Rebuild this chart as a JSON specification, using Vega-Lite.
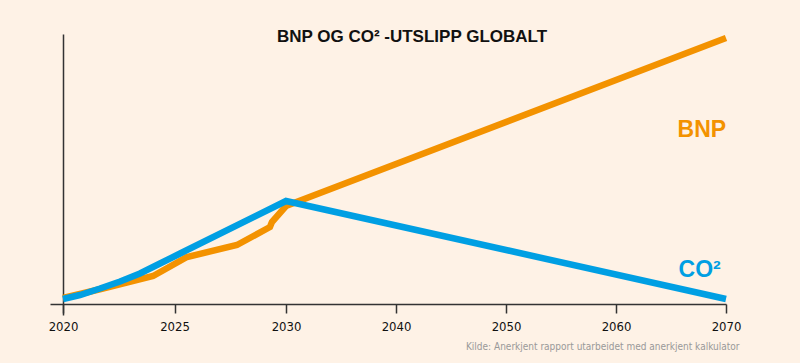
{
  "$schema": "https://vega.github.io/schema/vega-lite/v6.json",
  "width": 676,
  "height": 281,
  "autosize": {"type": "none"},
  "padding": {"left": 50, "top": 34, "right": 74, "bottom": 48},
  "background": "#FEF2E6",
  "config": {"view": {"stroke": null}},
  "title": {
    "text": "BNP OG CO² -UTSLIPP GLOBALT",
    "font": "Liberation Sans",
    "fontSize": 17,
    "fontWeight": "bold",
    "color": "#111111",
    "anchor": "middle",
    "baseline": "alphabetic",
    "dx": 24,
    "offset": -34
  },
  "datasets": {
    "lines": [
      {"series": "BNP", "year": 2020.0, "value": 6},
      {"series": "BNP", "year": 2021.7, "value": 15},
      {"series": "BNP", "year": 2024.04, "value": 28},
      {"series": "BNP", "year": 2025.56, "value": 47},
      {"series": "BNP", "year": 2027.8, "value": 59},
      {"series": "BNP", "year": 2029.28, "value": 77},
      {"series": "BNP", "year": 2029.37, "value": 82},
      {"series": "BNP", "year": 2030.0, "value": 98},
      {"series": "BNP", "year": 2070.0, "value": 266},
      {"series": "CO²", "year": 2020.0, "value": 5},
      {"series": "CO²", "year": 2020.76, "value": 9},
      {"series": "CO²", "year": 2021.66, "value": 15.5},
      {"series": "CO²", "year": 2022.56, "value": 22.5},
      {"series": "CO²", "year": 2023.45, "value": 30.5},
      {"series": "CO²", "year": 2024.35, "value": 40.5},
      {"series": "CO²", "year": 2025.25, "value": 50.5},
      {"series": "CO²", "year": 2030.0, "value": 103},
      {"series": "CO²", "year": 2070.0, "value": 5}
    ],
    "labels": [
      {"series": "BNP", "label": "BNP", "year": 2067.8, "value": 167},
      {"series": "CO²", "label": "CO²", "year": 2067.6, "value": 27}
    ]
  },
  "encoding": {
    "x": {
      "field": "year",
      "type": "quantitative",
      "scale": {"type": "linear", "domain": [2019.417, 2030, 2070], "range": [0, 236, 676], "nice": false, "zero": false},
      "axis": {
        "values": [2020, 2025, 2030, 2040, 2050, 2060, 2070],
        "format": "d",
        "offset": -11,
        "grid": false,
        "domainColor": "#333333",
        "domainWidth": 1.5,
        "tickColor": "#333333",
        "tickWidth": 1.5,
        "tickSize": 9,
        "labelFont": "Liberation Sans Narrow, DejaVu Sans Condensed, sans-serif",
        "labelFontSize": 13,
        "labelColor": "#111111",
        "labelPadding": 7,
        "labelFlush": false,
        "labelOverlap": false,
        "title": "Kilde: Anerkjent rapport utarbeidet med anerkjent kalkulator",
        "titleFont": "Liberation Sans Narrow, DejaVu Sans Condensed, sans-serif",
        "titleFontSize": 10,
        "titleFontWeight": "normal",
        "titleColor": "#999999",
        "titleX": 689,
        "titleY": 45,
        "titleAlign": "right",
        "titleBaseline": "alphabetic"
      }
    },
    "y": {
      "field": "value",
      "type": "quantitative",
      "scale": {"domain": [-11, 270], "nice": false, "zero": false},
      "axis": {
        "offset": -13,
        "grid": false,
        "ticks": false,
        "labels": false,
        "title": null,
        "domainColor": "#333333",
        "domainWidth": 1.5
      }
    },
    "color": {
      "field": "series",
      "type": "nominal",
      "scale": {"domain": ["BNP", "CO²"], "range": ["#F39200", "#009FE3"]},
      "legend": null
    }
  },
  "layer": [
    {
      "data": {"name": "lines"},
      "mark": {"type": "line", "strokeWidth": 6.5, "strokeCap": "butt", "strokeJoin": "miter", "clip": false}
    },
    {
      "data": {"name": "labels"},
      "mark": {"type": "text", "font": "Liberation Sans", "fontSize": 23, "fontWeight": "bold", "align": "center", "baseline": "alphabetic"},
      "encoding": {"text": {"field": "label", "type": "nominal"}}
    }
  ]
}
